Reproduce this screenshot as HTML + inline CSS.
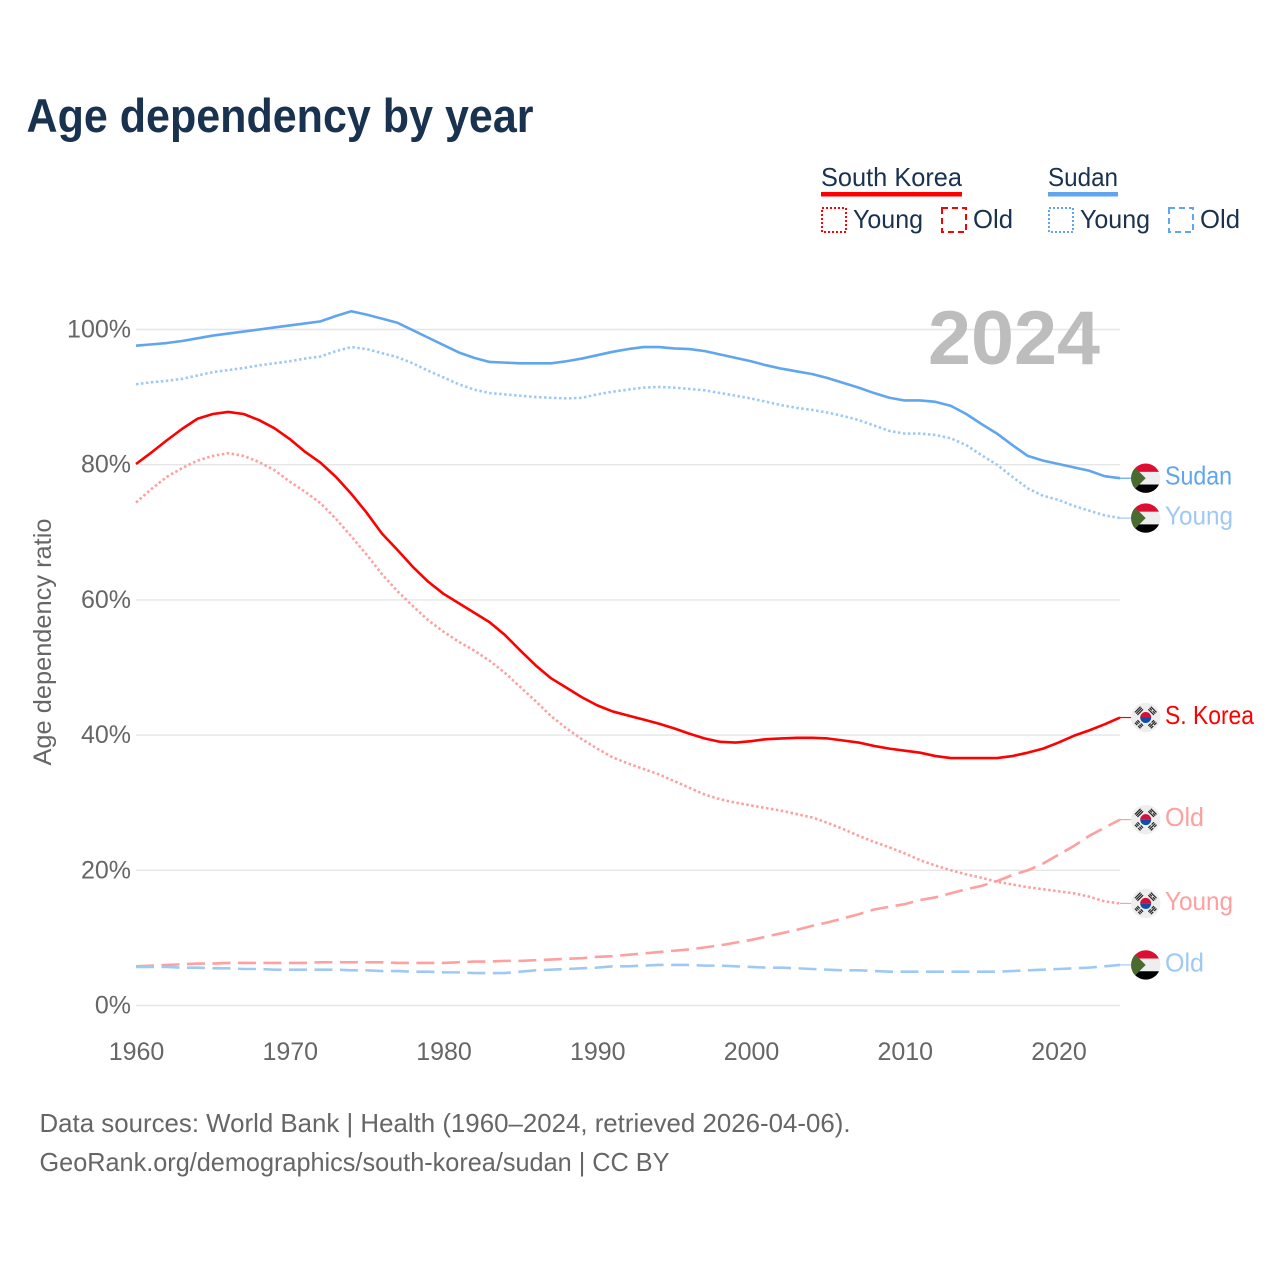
<!DOCTYPE html>
<html lang="en">
<head>
<meta charset="utf-8">
<title>Age dependency by year</title>
<style>
html,body{margin:0;padding:0;background:#fff;width:1280px;height:1280px;overflow:hidden}
svg{display:block}
text{font-family:"Liberation Sans",sans-serif}
.tick{font-size:25px;fill:#666}
.leg{font-size:26px;fill:#18324f}
.foot{font-size:26px;fill:#666}
.end{font-size:26px}
</style>
</head>
<body>
<svg id="chart" width="1280" height="1280" viewBox="0 0 1280 1280" xmlns="http://www.w3.org/2000/svg">
<defs>
  <clipPath id="flag-clip"><circle cx="0" cy="0" r="14.7"/></clipPath>
  <g id="flag-sudan" clip-path="url(#flag-clip)">
    <rect x="-15" y="-15" width="30" height="8.7" fill="#dc0f32"/>
    <rect x="-15" y="-6.3" width="30" height="12.6" fill="#eeeeee"/>
    <rect x="-15" y="6.3" width="30" height="8.7" fill="#000"/>
    <polygon points="-15,-15 0,0 -15,15" fill="#4a6b2f"/>
  </g>
  <g id="flag-korea" clip-path="url(#flag-clip)">
    <rect x="-15" y="-15" width="30" height="30" fill="#eeeeee"/>
    <path d="M-5.5,0A5.5,5.5 0 0 1 5.5,0Z" fill="#d5103a"/>
    <path d="M-5.5,0A5.5,5.5 0 0 0 5.5,0Z" fill="#0f4fa8"/>
    <g fill="#222">
      <g transform="rotate(-45) translate(0,-9.5)"><rect x="-4" y="-2.4" width="8" height="1.2"/><rect x="-4" y="-.6" width="8" height="1.2"/><rect x="-4" y="1.2" width="8" height="1.2"/></g>
      <g transform="rotate(45) translate(0,-9.5)"><rect x="-4" y="-2.4" width="8" height="1.2"/><rect x="-4" y="-.6" width="3.4" height="1.2"/><rect x=".6" y="-.6" width="3.4" height="1.2"/><rect x="-4" y="1.2" width="8" height="1.2"/></g>
      <g transform="rotate(135) translate(0,-9.5)"><rect x="-4" y="-2.4" width="3.4" height="1.2"/><rect x=".6" y="-2.4" width="3.4" height="1.2"/><rect x="-4" y="-.6" width="8" height="1.2"/><rect x="-4" y="1.2" width="3.4" height="1.2"/><rect x=".6" y="1.2" width="3.4" height="1.2"/></g>
      <g transform="rotate(225) translate(0,-9.5)"><rect x="-4" y="-2.4" width="3.4" height="1.2"/><rect x=".6" y="-2.4" width="3.4" height="1.2"/><rect x="-4" y="-.6" width="3.4" height="1.2"/><rect x=".6" y="-.6" width="3.4" height="1.2"/><rect x="-4" y="1.2" width="3.4" height="1.2"/><rect x=".6" y="1.2" width="3.4" height="1.2"/></g>
    </g>
  </g>
</defs>

<text x="26.5" y="132" font-size="47" font-weight="700" fill="#18324f" textLength="507" lengthAdjust="spacingAndGlyphs">Age dependency by year</text>

<g id="grid"></g>
<text x="1100" y="364" text-anchor="end" font-size="76" font-weight="700" fill="#bdbdbd" textLength="172" lengthAdjust="spacingAndGlyphs">2024</text>
<g id="yticks"></g>
<g id="xticks"></g>
<text transform="translate(51,642) rotate(-90)" text-anchor="middle" font-size="25" fill="#666" textLength="247" lengthAdjust="spacingAndGlyphs">Age dependency ratio</text>
<g id="series"></g>
<g id="ends"></g>

<g>
  <text class="leg" x="821" y="186" textLength="141" lengthAdjust="spacingAndGlyphs">South Korea</text>
  <rect x="821" y="192" width="141" height="4.5" fill="#ff0000"/>
  <rect x="822" y="208" width="24" height="24" fill="none" stroke="#ff0000" stroke-width="2" stroke-dasharray="2 2"/>
  <text class="leg" x="853" y="228" textLength="70" lengthAdjust="spacingAndGlyphs">Young</text>
  <rect x="942" y="208" width="24" height="24" fill="none" stroke="#ff0000" stroke-width="2" stroke-dasharray="6 4"/>
  <text class="leg" x="973" y="228" textLength="40" lengthAdjust="spacingAndGlyphs">Old</text>
</g>
<g>
  <text class="leg" x="1048" y="186" textLength="70" lengthAdjust="spacingAndGlyphs">Sudan</text>
  <rect x="1048" y="192" width="70" height="4.5" fill="#60a5ee"/>
  <rect x="1049" y="208" width="24" height="24" fill="none" stroke="#60a5ee" stroke-width="2" stroke-dasharray="2 2"/>
  <text class="leg" x="1080" y="228" textLength="70" lengthAdjust="spacingAndGlyphs">Young</text>
  <rect x="1169" y="208" width="24" height="24" fill="none" stroke="#60a5ee" stroke-width="2" stroke-dasharray="6 4"/>
  <text class="leg" x="1200" y="228" textLength="40" lengthAdjust="spacingAndGlyphs">Old</text>
</g>

<text class="foot" x="39.5" y="1132" textLength="811" lengthAdjust="spacingAndGlyphs">Data sources: World Bank | Health (1960–2024, retrieved 2026-04-06).</text>
<text class="foot" x="39.5" y="1171" textLength="630" lengthAdjust="spacingAndGlyphs">GeoRank.org/demographics/south-korea/sudan | CC BY</text>

<script>
var firstYear = 1960;
var lastYear = 2024;
var xTickYears = [1960, 1970, 1980, 1990, 2000, 2010, 2020];
var yTickValues = [0, 20, 40, 60, 80, 100];

var koreaTotal = [
  80.1,81.8,83.6,85.3,86.8,87.5,87.8,87.5,86.6,85.4,
  83.8,81.9,80.3,78.2,75.7,72.9,69.8,67.4,64.9,62.7,
  60.9,59.5,58.1,56.7,54.8,52.5,50.3,48.4,47.0,45.6,
  44.4,43.5,42.9,42.3,41.7,41.0,40.2,39.5,39.0,38.9,
  39.1,39.4,39.5,39.6,39.6,39.5,39.2,38.9,38.4,38.0,
  37.7,37.4,36.9,36.6,36.6,36.6,36.6,36.9,37.4,38.0,
  38.9,39.9,40.7,41.6,42.6
];
var koreaYoung = [
  74.4,76.4,78.2,79.5,80.6,81.3,81.7,81.3,80.4,79.2,
  77.5,76.0,74.3,72.0,69.4,66.7,63.8,61.3,59.1,57.0,
  55.3,53.8,52.5,51.0,49.2,47.1,45.0,42.8,41.0,39.4,
  38.0,36.7,35.8,35.0,34.2,33.2,32.2,31.2,30.5,30.0,
  29.6,29.2,28.8,28.3,27.8,27.0,26.1,25.1,24.2,23.4,
  22.5,21.5,20.7,20.0,19.4,18.9,18.3,17.9,17.5,17.2,
  16.9,16.6,16.1,15.4,15.1
];
var koreaOld = [
  5.8,5.9,6.0,6.1,6.2,6.2,6.3,6.3,6.3,6.3,
  6.3,6.3,6.4,6.4,6.4,6.4,6.4,6.3,6.3,6.3,
  6.3,6.4,6.5,6.5,6.6,6.6,6.7,6.8,6.9,7.0,
  7.2,7.3,7.5,7.7,7.9,8.1,8.3,8.6,8.9,9.3,
  9.7,10.2,10.7,11.2,11.8,12.3,12.9,13.5,14.2,14.6,
  15.0,15.6,16.0,16.6,17.2,17.7,18.4,19.3,20.0,21.0,
  22.3,23.6,25.1,26.3,27.5
];
var sudanTotal = [
  97.6,97.8,98.0,98.3,98.7,99.1,99.4,99.7,100.0,100.3,
  100.6,100.9,101.2,102.0,102.7,102.2,101.6,101.0,99.9,98.8,
  97.7,96.6,95.8,95.2,95.1,95.0,95.0,95.0,95.3,95.7,
  96.2,96.7,97.1,97.4,97.4,97.2,97.1,96.8,96.3,95.8,
  95.3,94.7,94.2,93.8,93.4,92.8,92.1,91.4,90.6,89.9,
  89.5,89.5,89.3,88.7,87.5,86.0,84.6,82.9,81.3,80.6,
  80.1,79.6,79.1,78.3,78.0
];
var sudanYoung = [
  91.9,92.2,92.4,92.7,93.2,93.7,94.0,94.3,94.7,95.0,
  95.3,95.7,96.0,96.8,97.4,97.1,96.5,95.9,95.0,93.9,
  92.9,91.9,91.1,90.6,90.4,90.2,90.0,89.9,89.8,89.9,
  90.4,90.8,91.1,91.4,91.5,91.4,91.2,91.0,90.6,90.2,
  89.8,89.3,88.8,88.4,88.1,87.7,87.2,86.6,85.8,85.0,
  84.6,84.6,84.4,83.9,82.9,81.4,80.0,78.2,76.5,75.4,
  74.8,73.9,73.2,72.5,72.1
];
var sudanOld = [
  5.7,5.7,5.7,5.6,5.6,5.5,5.5,5.4,5.4,5.3,
  5.3,5.3,5.3,5.3,5.2,5.2,5.1,5.1,5.0,5.0,
  4.9,4.9,4.8,4.8,4.8,5.0,5.2,5.3,5.4,5.5,
  5.6,5.8,5.8,5.9,6.0,6.0,6.0,5.9,5.9,5.8,
  5.7,5.6,5.6,5.5,5.4,5.3,5.2,5.2,5.1,5.0,
  5.0,5.0,5.0,5.0,5.0,5.0,5.0,5.1,5.2,5.3,
  5.4,5.5,5.6,5.8,6.0
];

var NS = 'http://www.w3.org/2000/svg';
function xScale(year) { return 136 + (year - firstYear) * (1120 - 136) / (lastYear - firstYear); }
function yScale(v) { return 1005.5 - v * 6.76; }
function make(tag, attrs, parent) {
  var el = document.createElementNS(NS, tag);
  for (var k in attrs) el.setAttribute(k, attrs[k]);
  parent.appendChild(el);
  return el;
}

var gridG = document.getElementById('grid');
var yG = document.getElementById('yticks');
var xG = document.getElementById('xticks');
var seriesG = document.getElementById('series');
var endsG = document.getElementById('ends');

yTickValues.forEach(function (v) {
  var line = make('line', {x1: 136, x2: 1120, y1: yScale(v), y2: yScale(v), stroke: '#e6e6e6', 'stroke-width': 1.4}, gridG);
  
  
  var t = make('text', {x: 131, y: yScale(v) + 8, 'text-anchor': 'end', 'class': 'tick', 'font-size': 25}, yG);
  t.textContent = v + '%';
  
  
});

xTickYears.forEach(function (yr) {
  var t = make('text', {x: xScale(yr) + 0.5, y: 1060, 'text-anchor': 'middle', 'class': 'tick'}, xG);
  t.textContent = yr;
  
  
});

function drawSeries(values, color, dash, width, name) {
  var d = values.map(function (v, i) {
    return (i ? 'L' : 'M') + xScale(firstYear + i).toFixed(2) + ',' + yScale(v).toFixed(2);
  }).join('');
  var attrs = {d: d, fill: 'none', stroke: color, 'stroke-width': width, 'stroke-linejoin': 'round'};
  if (dash) attrs['stroke-dasharray'] = dash;
  var p = make('path', attrs, seriesG);
  
  
}

drawSeries(koreaOld, '#ff9f9f', '18 7.5', 2.6, 'line-korea-old');
drawSeries(koreaYoung, '#ff9f9f', '2.5 2.5', 2.6, 'line-korea-young');
drawSeries(koreaTotal, '#ff0000', null, 2.6, 'line-korea-total');
drawSeries(sudanOld, '#9fc9f5', '18 7.5', 2.6, 'line-sudan-old');
drawSeries(sudanYoung, '#9fc9f5', '2.5 2.5', 2.6, 'line-sudan-young');
drawSeries(sudanTotal, '#60a5ee', null, 2.6, 'line-sudan-total');

function drawEnd(values, color, flag, label, width, name) {
  var y = yScale(values[values.length - 1]);
  var c = make('line', {x1: 1120, x2: 1132, y1: y, y2: y, stroke: color, 'stroke-width': 1.2}, endsG);
  
  
  var u = make('use', {href: '#' + flag, transform: 'translate(1145.7,' + y + ')'}, endsG);
  
  
  var t = make('text', {x: 1165, y: y + 6.5, fill: color, 'class': 'end', textLength: width, lengthAdjust: 'spacingAndGlyphs'}, endsG);
  t.textContent = label;
  
  
}

drawEnd(sudanTotal, '#60a5ee', 'flag-sudan', 'Sudan', 67, 'end-sudan-total');
drawEnd(sudanYoung, '#9fc9f5', 'flag-sudan', 'Young', 68, 'end-sudan-young');
drawEnd(koreaTotal, '#ff0000', 'flag-korea', 'S. Korea', 89, 'end-korea-total');
drawEnd(koreaOld, '#ff9f9f', 'flag-korea', 'Old', 39, 'end-korea-old');
drawEnd(koreaYoung, '#ff9f9f', 'flag-korea', 'Young', 68, 'end-korea-young');
drawEnd(sudanOld, '#9fc9f5', 'flag-sudan', 'Old', 39, 'end-sudan-old');
</script>
</svg>
</body>
</html>
